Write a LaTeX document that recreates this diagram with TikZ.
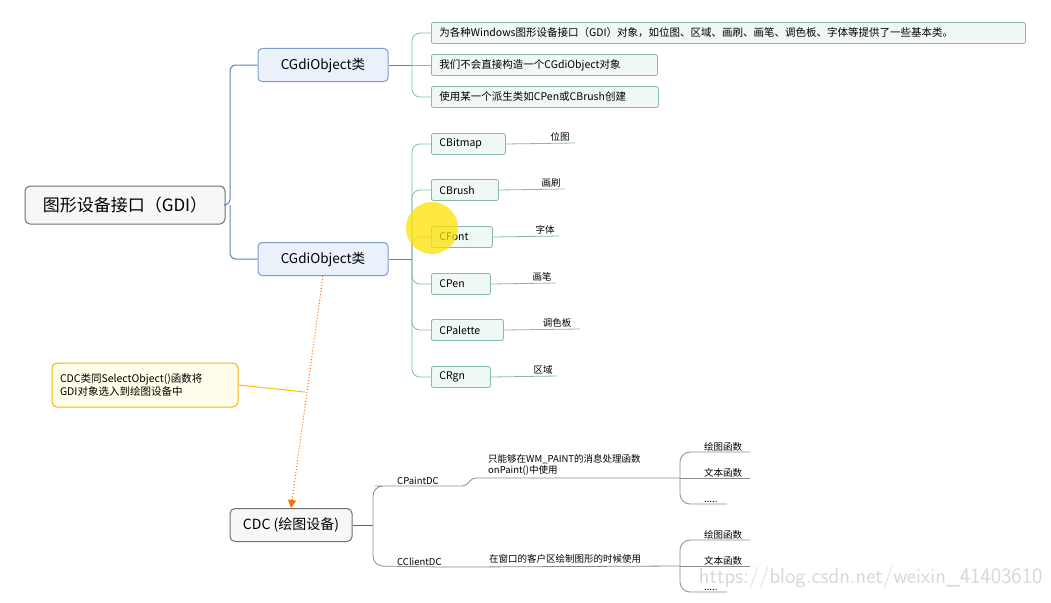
\documentclass[tikz,border=0pt]{standalone}
\usepackage{fontspec}
\setmainfont{Noto Sans CJK SC}
\usetikzlibrary{arrows.meta}
\definecolor{blueln}{HTML}{5B84C4}
\definecolor{bluefill}{HTML}{EAF1FB}
\definecolor{greenln}{HTML}{86BBAA}
\definecolor{greenfill}{HTML}{EFF8F4}
\definecolor{grayln}{HTML}{8C8C8C}
\tikzset{
 x=1pt,y=-1pt,
 rootbox/.style={draw=grayln!80!black,fill=gray!6,rounded corners=5pt,line width=1pt,minimum width=200pt,minimum height=38pt,font=\fontsize{17}{19}\selectfont},
 catbox/.style={draw=blueln!80,fill=bluefill,rounded corners=4pt,line width=1pt,minimum width=130pt,minimum height=33pt,font=\fontsize{13.5}{15}\selectfont},
 leafbox/.style={draw=greenln,fill=greenfill,rounded corners=2pt,line width=0.8pt,minimum height=21pt,anchor=west,inner xsep=8pt,align=left,font=\fontsize{10.5}{12}\selectfont},
 lbl/.style={font=\fontsize{9.5}{11}\selectfont,inner sep=1pt},
 bconn/.style={draw=blueln,line width=1pt,rounded corners=6pt},
 gconn/.style={draw=greenln,line width=0.8pt,rounded corners=8pt},
 kconn/.style={draw=grayln,line width=0.8pt,rounded corners=10pt},
}
\begin{document}
\begin{tikzpicture}
\useasboundingbox[fill=white] (0,0) rectangle (1051,602);
\node[text=gray!30,font=\fontsize{22}{24}\selectfont\sffamily,anchor=south east] (wm) at (1046,593) {https://blog.csdn.net/weixin\_41403610};
\node[rootbox] (root) at (125,205) {图形设备接口（GDI）};
\node[catbox] (a1) at (323,65) {CGdiObject类};
\node[catbox] (a2) at (323,259) {CGdiObject类};
\draw[bconn] (root.east) -- (230,205) |- (a1.west);
\draw[bconn] (230,205) |- (a2.west);
% top leaves
\node[leafbox,text width=578pt] (t1) at (431,33) {为各种Windows图形设备接口（GDI）对象，如位图、区域、画刷、画笔、调色板、字体等提供了一些基本类。};
\node[leafbox,text width=210pt] (t2) at (431,65) {我们不会直接构造一个CGdiObject对象};
\node[leafbox,text width=211pt] (t3) at (431,97) {使用某一个派生类如CPen或CBrush创建};
\draw[blueln,line width=1pt] (a1.east) -- (412,65);
\draw[gconn] (t1.west) -- (412,33) -- (412,97) -- (t3.west);
\draw[gconn] (412,65) -- (t2.west);
% children of a2
\draw[blueln,line width=1pt] (a2.east) -- (412,259);
\foreach \n/\t/\y/\w/\l/\lx/\ux in {b1/CBitmap/144/58/位图/560/575,b2/CBrush/190/51/画刷/551/565,b3/CFont/237/45/字体/545/559,b4/CPen/284/43/画笔/542/556,b5/CPalette/330/56/调色板/557/580,b6/CRgn/377/43/区域/543/557}{
 \node[leafbox,text width=\w pt] (\n) at (431,\y) {\t};
 \node[lbl] (\n l) at (\lx,\y-7) {\l};
 \draw[greenln,line width=0.8pt] (\n.east) -- (\ux,\y-1);
 \draw[gconn] (412,259) |- (\n.west);
}
% yellow highlight
\fill[yellow!85!orange,opacity=0.75] (432,228) circle (26);
% note
\node[draw=orange!60!yellow,fill=yellow!8,rounded corners=5pt,line width=1pt,text width=170pt,minimum height=44pt,inner xsep=8pt,align=left,font=\fontsize{10.5}{13}\selectfont] (note) at (145,385) {CDC类同SelectObject()函数将\\GDI对象选入到绘图设备中};
\coordinate (nj) at (305,392);
\draw[orange!50!yellow,line width=1pt] (note.east) -- (nj);
% CDC
\node[rootbox,minimum width=122pt,minimum height=33pt,font=\fontsize{14}{16}\selectfont] (cdc) at (291,525) {CDC (绘图设备)};
\draw[orange!85!red,line width=1pt,dotted,-{Triangle[length=8pt,width=8pt]}] (a2.south) -- (cdc.north);
\draw[grayln!70!black,line width=1pt] (cdc.east) -- (373,525);
\node[lbl,anchor=south west] (pd) at (396,486) {CPaintDC};
\node[lbl,anchor=south west] (cd) at (396,567) {CClientDC};
\draw[kconn] (pd.south east) -- (385,486) -- (373,486) -- (373,566) -- (cd.south east);
\node[lbl,anchor=south west,align=left] (pdt) at (487,477) {只能够在WM\_PAINT的消息处理函数\\onPaint()中使用};
\node[lbl,anchor=south west] (cdt) at (488,565) {在窗口的客户区绘制图形的时候使用};
\draw[grayln,line width=0.8pt,rounded corners=4pt] (pd.south east) -- (466,486) -- (472,478) -- (680,478);
\draw[grayln,line width=0.8pt,rounded corners=4pt] (cd.south east) -- (466,567) -- (680,566);
\foreach \s/\yy in {p/478,c/566}{
 \node[lbl,anchor=south west] (\s1) at (703,\yy-26) {绘图函数};
 \node[lbl,anchor=south west] (\s2) at (703,\yy) {文本函数};
 \node[lbl,anchor=south west] (\s3) at (703,\yy+26) {.....};
 \draw[kconn] (750,\yy-26) -- (680,\yy-26) -- (680,\yy+26) -- (727,\yy+26);
 \draw[grayln,line width=0.8pt] (680,\yy) -- (750,\yy);
}
\end{tikzpicture}
\end{document}
